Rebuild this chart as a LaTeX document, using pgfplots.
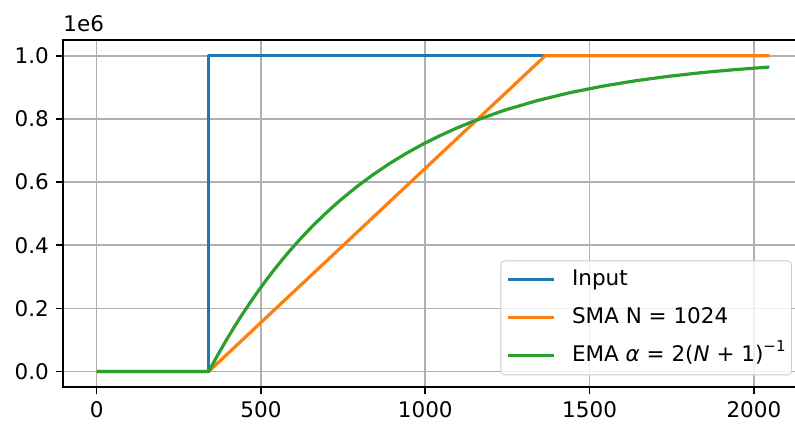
\documentclass[border=0pt]{standalone}
\usepackage{fontspec}
\setmainfont{DejaVu Sans}
\usepackage{pgfplots}
\pgfplotsset{compat=1.18}

\definecolor{c0}{RGB}{31,119,180}
\definecolor{c1}{RGB}{255,127,14}
\definecolor{c2}{RGB}{44,160,44}
\definecolor{gridgray}{RGB}{176,176,176}

\begin{document}
\begin{tikzpicture}[font=\fontsize{10.75}{13}\selectfont]
\begin{axis}[
name=ax,
scale only axis,
width=370pt, height=173.65pt,
xmin=-102.35, xmax=2149.35,
ymin=-50000, ymax=1050000,
xtick={0,500,1000,1500,2000},
xticklabels={0,500,1000,1500,2000},
ytick={0,200000,400000,600000,800000,1000000},
yticklabels={0.0,0.2,0.4,0.6,0.8,1.0},
scaled y ticks=false,
xtick pos=bottom, ytick pos=left,
tick align=outside,
major tick length=3.5pt,
every tick/.style={black, line width=0.8pt},
axis line style={line width=0.8pt},
grid=major,
major grid style={gridgray, line width=0.8pt},
legend cell align=left,
legend image code/.code={\draw[#1] (0pt,0pt) -- (23pt,0pt);},
legend style={at={(rel axis cs:1,0)}, anchor=south east,
  xshift=-5.5pt, yshift=6pt,
  draw=black!20, fill=white, fill opacity=0.8, text opacity=1,
  rounded corners=2pt, inner xsep=3pt, inner ysep=4pt,
  row sep=8pt, column sep=8pt,
  nodes={inner sep=0pt, text height=8.5pt, text depth=2.5pt}},
every axis plot/.append style={line width=1.6pt, line join=round},
]
\addplot[c0] coordinates {(0,0) (341,0) (341,1000000) (2047,1000000)};
\addlegendentry{Input}
\addplot[c1] coordinates {(0,0) (341,0) (1365,1000000) (2047,1000000)};
\addlegendentry{SMA N = 1024}
\addplot[c2] coordinates {
(0,0) (341,0) (366,47658) (391,93044) (416,136267) (441,177431)
(466,216632) (491,253966) (516,289520) (541,323380) (566,355626)
(591,386335) (616,415581) (641,443433) (666,469958) (691,495218)
(716,519275) (741,542185) (791,584783) (841,623415) (891,658454)
(941,690233) (991,719055) (1041,745195) (1091,768903) (1141,790405)
(1241,827594) (1341,858184) (1441,883347) (1541,904044) (1641,921070)
(1741,935074) (1841,946594) (1941,956070) (2047,964285)};
\addlegendentry{EMA \textit{α} = 2(\textit{N} + 1)\raisebox{0.5em}{\fontsize{7.5}{8}\selectfont −1}}
\end{axis}
\node[anchor=base west, inner sep=0pt, yshift=4pt] at (ax.north west) {1e6};
\pgfresetboundingbox
\path[use as bounding box] ([shift={(-31.5pt,-20.35pt)}]ax.south west) rectangle ([shift={(-4pt,20pt)}]ax.north east);
\end{tikzpicture}
\end{document}
